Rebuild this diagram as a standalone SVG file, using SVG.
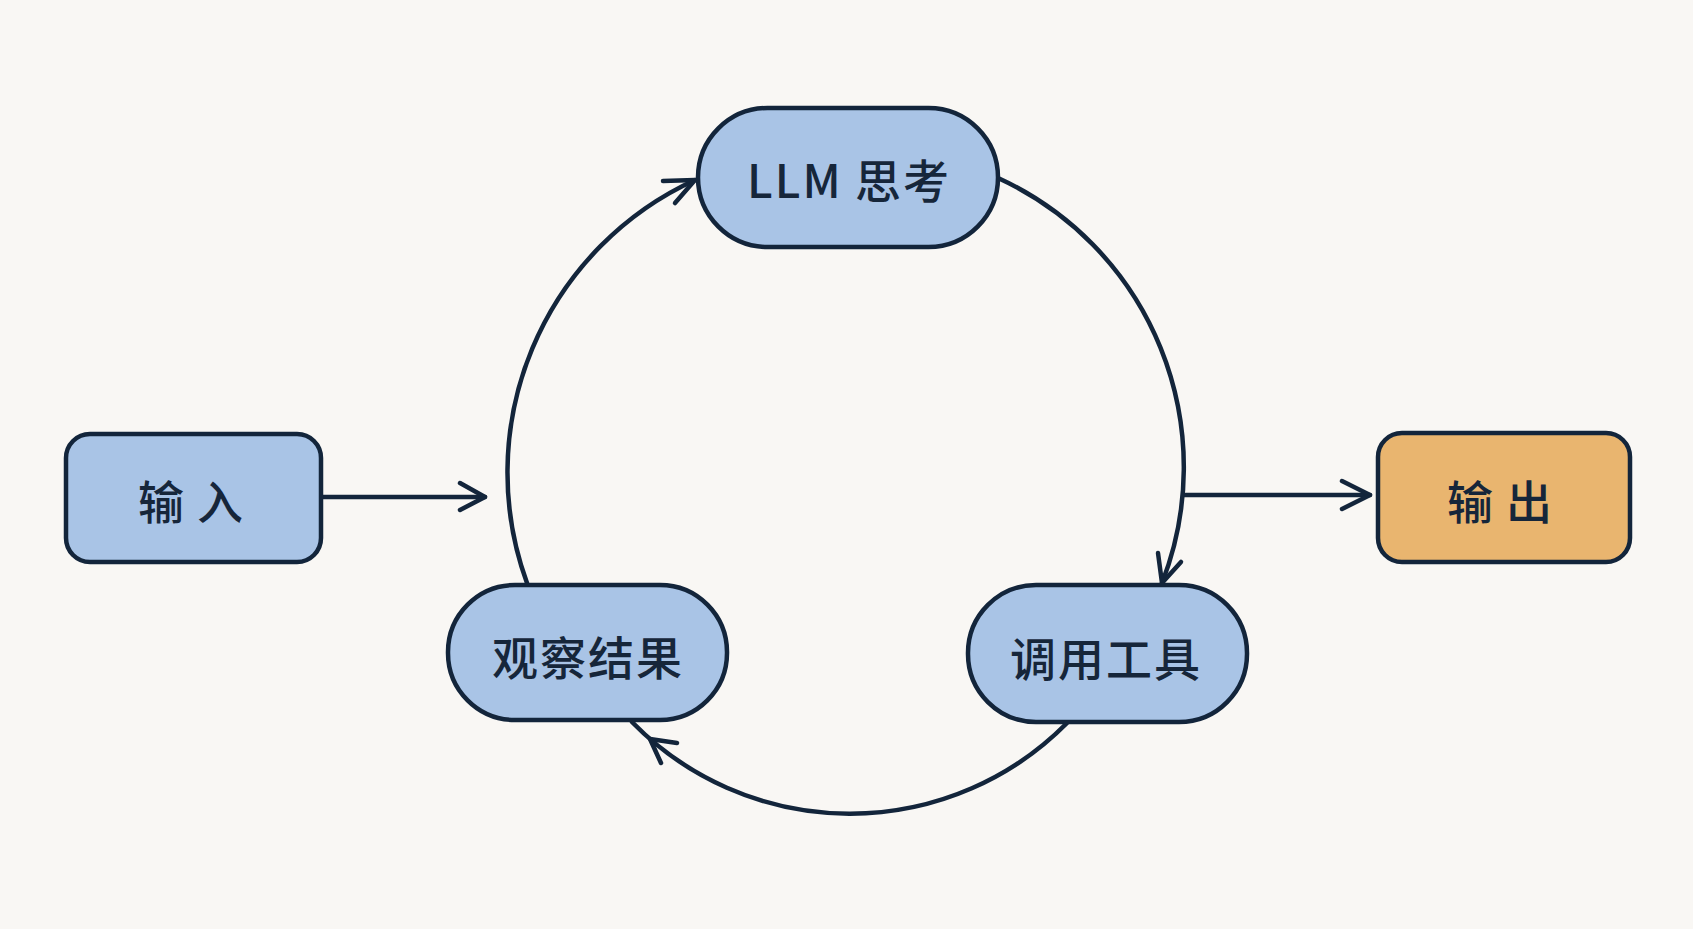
<svg xmlns="http://www.w3.org/2000/svg" width="1693" height="929" viewBox="0 0 1693 929">
  <defs>
    <style>
      .node { stroke: #13253b; stroke-width: 4.5; }
      .blue { fill: #a9c4e6; }
      .orange { fill: #e9b56f; }
      .lbl { font-family: "Noto Sans CJK SC", "Noto Sans", sans-serif; font-size: 46px; font-weight: 500; fill: #16263a; text-anchor: middle; dominant-baseline: central; }
      .edge { fill: none; stroke: #13253b; stroke-width: 4.5; stroke-linecap: round; stroke-linejoin: round; }
    </style>
  </defs>
  <rect x="0" y="0" width="1693" height="929" fill="#f9f7f4"/>

  <g id="connectors">
    <path class="edge" d="M322,497 L485,497"/>
    <path class="edge" d="M460,483 L485,497 L460,510"/>
    <path class="edge" d="M1184,495 L1370,495"/>
    <path class="edge" d="M1342,481 L1370,495 L1342,509"/>
    <path class="edge" d="M998,178 A318,318 0 0 1 1162,583"/>
    <path class="edge" d="M1158,553 L1162,583 L1181,562"/>
    <path class="edge" d="M1067,723 A305,305 0 0 1 632,722"/>
    <path class="edge" d="M677,743 L650,739 L661,763"/>
    <path class="edge" d="M527,583 A322,322 0 0 1 695,180"/>
    <path class="edge" d="M663,181 L695,180 L675,203"/>
  </g>

  <g id="node-llm">
    <rect class="node blue" x="698" y="108" width="300" height="139" rx="69.5"/>
    <text class="lbl" x="849" y="178" letter-spacing="2">LLM 思考</text>
  </g>
  <g id="node-input">
    <rect class="node blue" x="66" y="434" width="255" height="128" rx="24"/>
    <text class="lbl" x="197" y="499" letter-spacing="13">输入</text>
  </g>
  <g id="node-output">
    <rect class="node orange" x="1378" y="433" width="252" height="129" rx="24"/>
    <text class="lbl" x="1506" y="499" letter-spacing="13">输出</text>
  </g>
  <g id="node-observe">
    <rect class="node blue" x="448" y="585" width="279" height="135" rx="67"/>
    <text class="lbl" x="588" y="655" letter-spacing="2">观察结果</text>
  </g>
  <g id="node-tool">
    <rect class="node blue" x="968" y="585" width="279" height="137" rx="68"/>
    <text class="lbl" x="1106" y="656" letter-spacing="2">调用工具</text>
  </g>
</svg>
